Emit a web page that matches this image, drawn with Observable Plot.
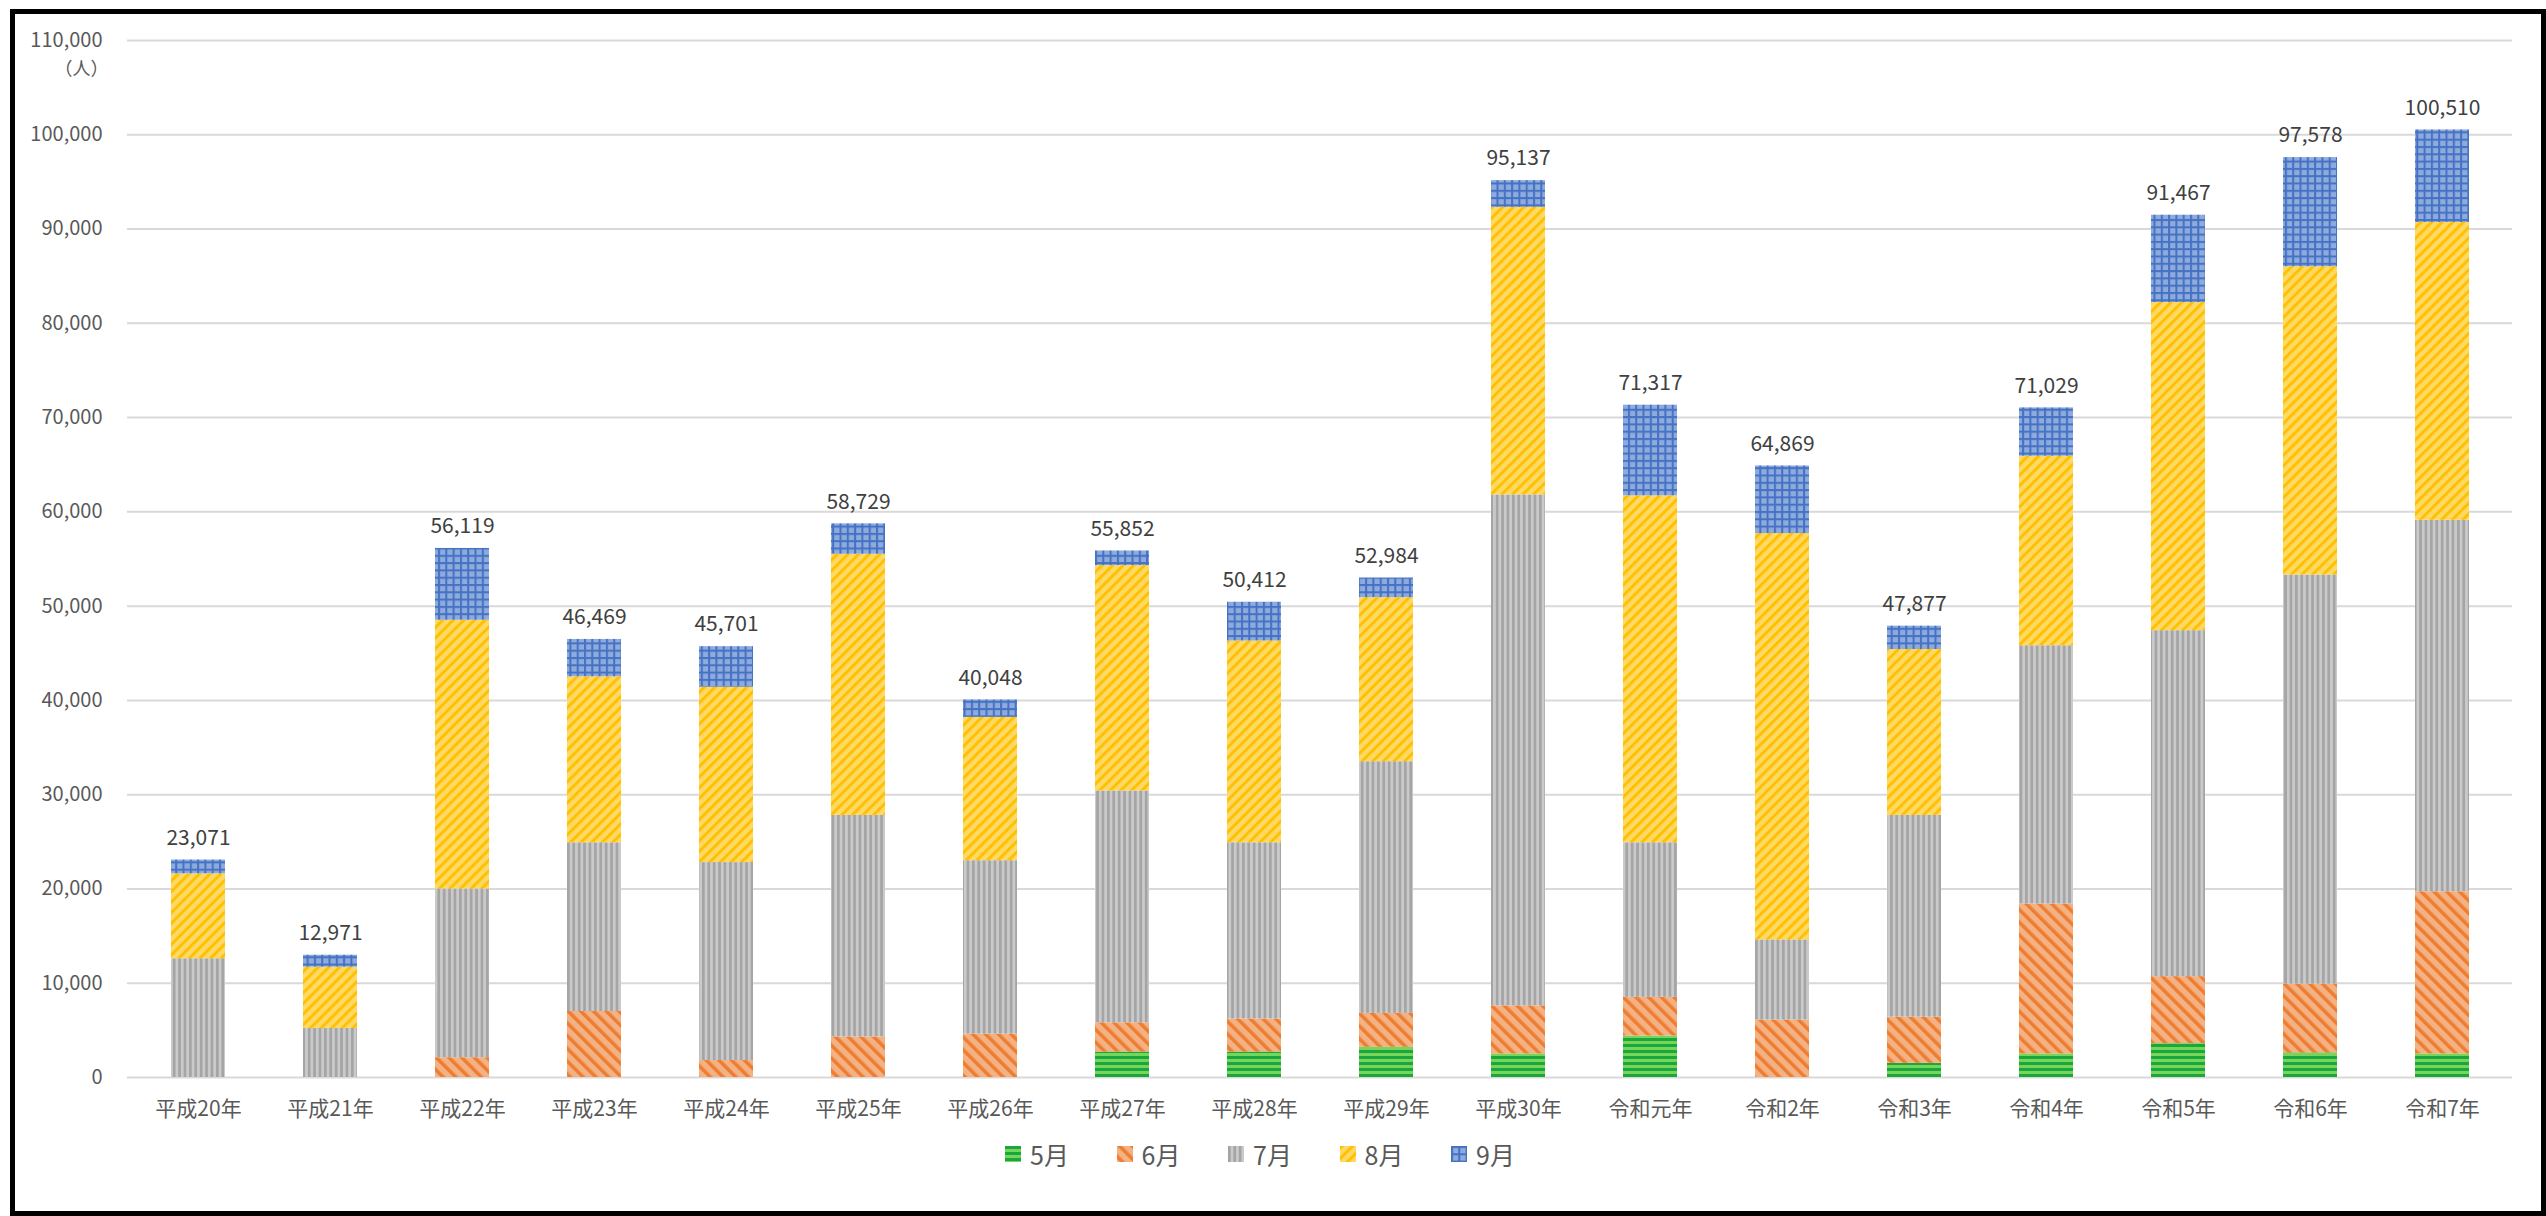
<!DOCTYPE html>
<html><head><meta charset="utf-8">
<script src="https://cdn.jsdelivr.net/npm/d3@7"></script>
<script src="https://cdn.jsdelivr.net/npm/@observablehq/plot@0.6"></script>
<style>
body{margin:0;background:#fff;font-family:"Noto Sans CJK JP","Noto Sans",sans-serif;}
#wrap{position:relative;width:2546px;height:1216px;overflow:hidden;background:#fff}
#frame{position:absolute;left:10px;top:9px;width:2526px;height:1197px;border:5px solid #000;pointer-events:none;box-sizing:content-box}
#chart{position:absolute;left:0;top:0}
.leg{position:absolute;top:1135px;height:38px;display:flex;align-items:center;font-size:25px;color:#595959;white-space:nowrap}
.leg svg{margin-right:9px}
</style>
</head><body>
<div id="wrap">
<svg width="0" height="0" style="position:absolute">
<defs>
<pattern id="p5" patternUnits="userSpaceOnUse" width="8" height="6"><rect width="8" height="6" fill="#78D55A"/><rect width="8" height="3" fill="#19A83D"/></pattern>
<pattern id="p6" patternUnits="userSpaceOnUse" width="9" height="9" patternTransform="rotate(-45)"><rect width="9" height="9" fill="#F4B183"/><rect width="3.5" height="9" fill="#ED7D31"/></pattern>
<pattern id="p7" patternUnits="userSpaceOnUse" width="5.4" height="8"><rect width="5.4" height="8" fill="#CACACA"/><rect width="2.7" height="8" fill="#A5A5A5"/></pattern>
<pattern id="p8" patternUnits="userSpaceOnUse" width="7.5" height="8" patternTransform="rotate(45)"><rect width="7.5" height="8" fill="#FFD966"/><rect width="3" height="8" fill="#FFC000"/></pattern>
<pattern id="p9" patternUnits="userSpaceOnUse" width="7.3" height="7.3"><rect width="7.3" height="7.3" fill="#8FAADC"/><rect width="7.3" height="2" fill="#4472C4"/><rect width="2" height="7.3" fill="#4472C4"/></pattern>
</defs>
</svg>
<div id="chart"></div>
<div id="legend"></div>
<div id="frame"></div>
</div>
<script>
const years = ["平成20年","平成21年","平成22年","平成23年","平成24年","平成25年","平成26年","平成27年","平成28年","平成29年","平成30年","令和元年","令和2年","令和3年","令和4年","令和5年","令和6年","令和7年"];
const months = ["5月","6月","7月","8月","9月"];
const may = [0,0,0,0,0,0,0,2700,2700,3200,2500,4400,0,1500,2500,3600,2600,2500];
const jun = [0,0,2100,7000,1800,4300,4600,3100,3500,3600,5100,4100,6100,4900,15900,7100,7300,17200];
const jul = [12600,5200,17900,17900,21000,23500,18400,24600,18700,26700,54200,16400,8500,21400,27400,36700,43400,39400];
const aug = [9000,6500,28500,17600,18600,27700,15200,23900,21400,17400,30500,36800,43100,17600,20100,34800,32700,31600];
const sep = [1471,1271,7619,3969,4301,3229,1848,1552,4112,2084,2837,9617,7169,2477,5129,9267,11578,9810];
const totals = [23071,12971,56119,46469,45701,58729,40048,55852,50412,52984,95137,71317,64869,47877,71029,91467,97578,100510];
const yTicks = [0,10000,20000,30000,40000,50000,60000,70000,80000,90000,100000,110000];
const fills = ["url(#p5)","url(#p6)","url(#p7)","url(#p8)","url(#p9)"];

const series = [may,jun,jul,aug,sep];
const rows = months.flatMap((m,i)=>years.map((y,j)=>({year:y, month:m, value:series[i][j]})));
const totalRows = years.map((y,j)=>({year:y, total:totals[j]}));
const fmt = d3.format(",");

const chart = Plot.plot({
  width:2546, height:1130,
  marginLeft:127, marginRight:34, marginTop:40, marginBottom:53,
  style:{fontFamily:'"Noto Sans CJK JP","Noto Sans",sans-serif', background:"transparent", overflow:"visible"},
  x:{domain:years, padding:0, label:null},
  y:{domain:[0,110000], label:null},
  color:{domain:months, range:fills},
  marks:[
    Plot.gridY(yTicks, {stroke:"#D9D9D9", strokeOpacity:1, strokeWidth:2}),
    Plot.axisY(yTicks, {tickSize:0, tickPadding:25, tickFormat:fmt, fontSize:20, fill:"#595959", label:null}),
    Plot.axisX({tickSize:0, tickPadding:24, fontSize:21, fill:"#595959", label:null}),
    Plot.barY(rows, {x:"year", y:"value", fill:"month", insetLeft:39, insetRight:39}),
    Plot.text(totalRows, {x:"year", y:"total", text:d=>fmt(d.total), dy:-22, fontSize:21, fill:"#404040"}),
    Plot.text(["（人）"], {frameAnchor:"top-left", dx:-19, dy:22, textAnchor:"end", fontSize:18, fill:"#595959"})
  ]
});
document.getElementById("chart").appendChild(chart);

const legend = document.getElementById("legend");
months.forEach((m,i)=>{
  const d = document.createElement("div");
  d.className = "leg";
  d.style.left = (1005 + i*111.5) + "px";
  d.innerHTML = `<svg width="16" height="16"><rect width="16" height="16" fill="${fills[i]}"/></svg><span>${m}</span>`;
  legend.appendChild(d);
});
</script>
</body></html>
